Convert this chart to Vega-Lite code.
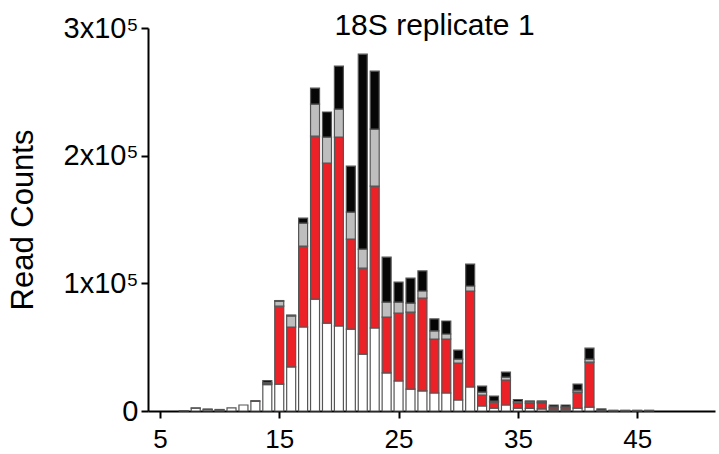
{
  "$schema": "https://vega.github.io/schema/vega-lite/v6.json",
  "width": 567,
  "height": 383,
  "autosize": "none",
  "padding": {"left": 148, "top": 28, "right": 4, "bottom": 43},
  "background": "white",
  "title": {"text": "18S replicate 1", "fontSize": 30, "font": "Liberation Sans", "fontWeight": "normal", "color": "black", "offset": -12, "baseline": "alphabetic", "dy": 39, "dx": 3},
  "config": {"view": {"stroke": null}},
  "data": {"values": [
    {"len": 7, "cls": "c1", "count": 300},
    {"len": 8, "cls": "c1", "count": 2200}, {"len": 8, "cls": "c3", "count": 200},
    {"len": 9, "cls": "c1", "count": 1000}, {"len": 9, "cls": "c4", "count": 600},
    {"len": 10, "cls": "c1", "count": 800}, {"len": 10, "cls": "c4", "count": 400},
    {"len": 11, "cls": "c1", "count": 2400},
    {"len": 12, "cls": "c1", "count": 4700},
    {"len": 13, "cls": "c1", "count": 7600}, {"len": 13, "cls": "c2", "count": 500},
    {"len": 14, "cls": "c1", "count": 20700}, {"len": 14, "cls": "c2", "count": 800}, {"len": 14, "cls": "c3", "count": 900}, {"len": 14, "cls": "c4", "count": 1500},
    {"len": 15, "cls": "c1", "count": 21100}, {"len": 15, "cls": "c2", "count": 61000}, {"len": 15, "cls": "c3", "count": 3900}, {"len": 15, "cls": "c4", "count": 500},
    {"len": 16, "cls": "c1", "count": 34500}, {"len": 16, "cls": "c2", "count": 31300}, {"len": 16, "cls": "c3", "count": 8600}, {"len": 16, "cls": "c4", "count": 800},
    {"len": 17, "cls": "c1", "count": 65800}, {"len": 17, "cls": "c2", "count": 63400}, {"len": 17, "cls": "c3", "count": 18000}, {"len": 17, "cls": "c4", "count": 3900},
    {"len": 18, "cls": "c1", "count": 87700}, {"len": 18, "cls": "c2", "count": 127600}, {"len": 18, "cls": "c3", "count": 25100}, {"len": 18, "cls": "c4", "count": 12500},
    {"len": 19, "cls": "c1", "count": 68900}, {"len": 19, "cls": "c2", "count": 125300}, {"len": 19, "cls": "c3", "count": 20400}, {"len": 19, "cls": "c4", "count": 19600},
    {"len": 20, "cls": "c1", "count": 66600}, {"len": 20, "cls": "c2", "count": 148000}, {"len": 20, "cls": "c3", "count": 21900}, {"len": 20, "cls": "c4", "count": 33700},
    {"len": 21, "cls": "c1", "count": 64200}, {"len": 21, "cls": "c2", "count": 70500}, {"len": 21, "cls": "c3", "count": 21100}, {"len": 21, "cls": "c4", "count": 36000},
    {"len": 22, "cls": "c1", "count": 44600}, {"len": 22, "cls": "c2", "count": 67300}, {"len": 22, "cls": "c3", "count": 14900}, {"len": 22, "cls": "c4", "count": 152700},
    {"len": 23, "cls": "c1", "count": 65000}, {"len": 23, "cls": "c2", "count": 111200}, {"len": 23, "cls": "c3", "count": 44600}, {"len": 23, "cls": "c4", "count": 45400},
    {"len": 24, "cls": "c1", "count": 29800}, {"len": 24, "cls": "c2", "count": 43800}, {"len": 24, "cls": "c3", "count": 11700}, {"len": 24, "cls": "c4", "count": 35200},
    {"len": 25, "cls": "c1", "count": 23500}, {"len": 25, "cls": "c2", "count": 53200}, {"len": 25, "cls": "c3", "count": 8600}, {"len": 25, "cls": "c4", "count": 15700},
    {"len": 26, "cls": "c1", "count": 17200}, {"len": 26, "cls": "c2", "count": 60300}, {"len": 26, "cls": "c3", "count": 7000}, {"len": 26, "cls": "c4", "count": 19600},
    {"len": 27, "cls": "c1", "count": 15700}, {"len": 27, "cls": "c2", "count": 72800}, {"len": 27, "cls": "c3", "count": 5500}, {"len": 27, "cls": "c4", "count": 15700},
    {"len": 28, "cls": "c1", "count": 14100}, {"len": 28, "cls": "c2", "count": 42300}, {"len": 28, "cls": "c3", "count": 6300}, {"len": 28, "cls": "c4", "count": 9400},
    {"len": 29, "cls": "c1", "count": 14100}, {"len": 29, "cls": "c2", "count": 42300}, {"len": 29, "cls": "c3", "count": 3900}, {"len": 29, "cls": "c4", "count": 10200},
    {"len": 30, "cls": "c1", "count": 8600}, {"len": 30, "cls": "c2", "count": 29000}, {"len": 30, "cls": "c3", "count": 3100}, {"len": 30, "cls": "c4", "count": 7000},
    {"len": 31, "cls": "c1", "count": 18800}, {"len": 31, "cls": "c2", "count": 75200}, {"len": 31, "cls": "c3", "count": 3900}, {"len": 31, "cls": "c4", "count": 17200},
    {"len": 32, "cls": "c1", "count": 3900}, {"len": 32, "cls": "c2", "count": 8600}, {"len": 32, "cls": "c3", "count": 2300}, {"len": 32, "cls": "c4", "count": 4700},
    {"len": 33, "cls": "c1", "count": 2300}, {"len": 33, "cls": "c2", "count": 4700}, {"len": 33, "cls": "c3", "count": 800}, {"len": 33, "cls": "c4", "count": 3900},
    {"len": 34, "cls": "c1", "count": 4700}, {"len": 34, "cls": "c2", "count": 19600}, {"len": 34, "cls": "c3", "count": 2300}, {"len": 34, "cls": "c4", "count": 3900},
    {"len": 35, "cls": "c1", "count": 2300}, {"len": 35, "cls": "c2", "count": 3900}, {"len": 35, "cls": "c3", "count": 1200}, {"len": 35, "cls": "c4", "count": 1600},
    {"len": 36, "cls": "c1", "count": 2000}, {"len": 36, "cls": "c2", "count": 3900}, {"len": 36, "cls": "c3", "count": 1200}, {"len": 36, "cls": "c4", "count": 800},
    {"len": 37, "cls": "c1", "count": 1600}, {"len": 37, "cls": "c2", "count": 4700}, {"len": 37, "cls": "c3", "count": 800}, {"len": 37, "cls": "c4", "count": 800},
    {"len": 38, "cls": "c1", "count": 800}, {"len": 38, "cls": "c2", "count": 1600}, {"len": 38, "cls": "c3", "count": 800}, {"len": 38, "cls": "c4", "count": 1500},
    {"len": 39, "cls": "c1", "count": 800}, {"len": 39, "cls": "c2", "count": 1600}, {"len": 39, "cls": "c3", "count": 800}, {"len": 39, "cls": "c4", "count": 1500},
    {"len": 40, "cls": "c1", "count": 2300}, {"len": 40, "cls": "c2", "count": 12500}, {"len": 40, "cls": "c3", "count": 1600}, {"len": 40, "cls": "c4", "count": 4700},
    {"len": 41, "cls": "c1", "count": 3100}, {"len": 41, "cls": "c2", "count": 35200}, {"len": 41, "cls": "c3", "count": 2300}, {"len": 41, "cls": "c4", "count": 8600},
    {"len": 42, "cls": "c1", "count": 300}, {"len": 42, "cls": "c3", "count": 300}, {"len": 42, "cls": "c4", "count": 1000},
    {"len": 43, "cls": "c1", "count": 300}, {"len": 43, "cls": "c4", "count": 300},
    {"len": 44, "cls": "c1", "count": 300}, {"len": 44, "cls": "c4", "count": 300},
    {"len": 45, "cls": "c1", "count": 300}, {"len": 45, "cls": "c4", "count": 300},
    {"len": 46, "cls": "c2", "count": 600}
  ]},
  "mark": {"type": "bar", "size": 9, "stroke": "#555555", "strokeWidth": 1.2},
  "encoding": {
    "x": {"field": "len", "type": "quantitative",
      "scale": {"domain": [4.42, 51.1], "nice": false, "zero": false},
      "axis": {"title": null, "values": [5, 15, 25, 35, 45], "grid": false, "labelFontSize": 26, "labelFont": "Liberation Sans", "labelColor": "black", "tickSize": 7, "tickWidth": 2, "tickColor": "black", "domainColor": "black", "domainWidth": 2, "labelPadding": 8}},
    "y": {"field": "count", "type": "quantitative", "stack": "zero",
      "scale": {"domain": [0, 300000], "nice": false},
      "axis": {"title": "Read Counts", "titleFontSize": 31, "titleFont": "Liberation Sans", "titleFontWeight": "normal", "titleColor": "black", "titlePadding": 24,
        "values": [0, 100000, 200000, 300000], "labelExpr": "datum.value == 0 ? '0' : (datum.value / 100000) + 'x10⁵'",
        "grid": false, "labelFontSize": 29, "labelFont": "Liberation Sans", "labelColor": "black", "tickSize": 7, "tickWidth": 2, "tickColor": "black", "domainColor": "black", "domainWidth": 2, "labelPadding": 3}},
    "color": {"field": "cls", "type": "nominal", "legend": null,
      "scale": {"domain": ["c1", "c2", "c3", "c4"], "range": ["#ffffff", "#ec2127", "#bebebe", "#060606"]}},
    "order": {"field": "cls", "type": "nominal", "sort": "ascending"}
  }
}
